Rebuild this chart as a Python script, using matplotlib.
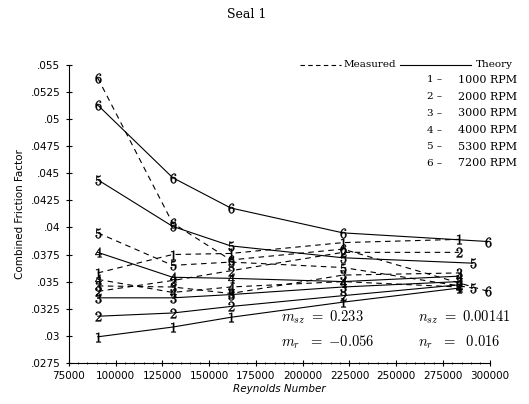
import numpy as np
import matplotlib
matplotlib.use("Agg")
import matplotlib.pyplot as plt
from matplotlib.lines import Line2D
from matplotlib.ticker import FuncFormatter, MultipleLocator

plt.rcParams['mathtext.fontset'] = 'cm'

# Reynolds numbers of the test points (last point shifts for 5300 / 7200 RPM)
re_low = [90500, 130500, 161500, 221500, 283500]
re_5 = [90500, 130500, 161500, 221500, 291000]
re_6 = [90500, 130500, 161500, 221500, 299000]

# theory (solid)
theory_1 = [.0299, .0308, .0317, .0331, .0344]
theory_2 = [.0318, .0321, .0327, .0337, .0347]
theory_3 = [.0335, .0335, .0338, .0345, .0350]
theory_4 = [.0377, .0354, .0353, .0350, .0355]
theory_5 = [.0444, .0401, .0383, .0372, .0367]
theory_6 = [.0513, .0446, .0418, .0395, .0387]

# measured (dashed)
meas_1 = [.0358, .0375, .0376, .0386, .0389]
meas_2 = [.0341, .0351, .0360, .0377, .0377]
meas_3 = [.0346, .0345, .0339, .0356, .0358]
meas_4 = [.0352, .0340, .0345, .0350, .0345]
meas_5 = [.0395, .0365, .0368, .0363, .0344]
meas_6 = [.0538, .0404, .0370, .0380, .0341]

rpm_labels = ['1000 RPM', '2000 RPM', '3000 RPM', '4000 RPM', '5300 RPM', '7200 RPM']

theory = [theory_1, theory_2, theory_3, theory_4, theory_5, theory_6]
measured = [meas_1, meas_2, meas_3, meas_4, meas_5, meas_6]
re_x = [re_low, re_low, re_low, re_low, re_5, re_6]

fig = plt.figure(figsize=(5.29, 4.04), dpi=100)
ax = fig.add_axes([0.130, 0.102, 0.796, 0.737])

for i in range(6):
    mk = '$%d$' % (i + 1)
    ax.plot(re_x[i], measured[i], color='k', lw=0.8, ls=(0, (5, 4)),
            marker=mk, ms=7, mew=0.3, clip_on=False)
    ax.plot(re_x[i], theory[i], color='k', lw=0.8, ls='-',
            marker=mk, ms=7, mew=0.3, clip_on=False)

ax.set_xlim(75000, 300000)
ax.set_ylim(.0275, .055)
ax.xaxis.set_major_locator(MultipleLocator(25000))
ax.xaxis.set_minor_locator(MultipleLocator(5000))
ax.yaxis.set_major_locator(MultipleLocator(.0025))
ax.yaxis.set_major_formatter(FuncFormatter(lambda v, p: ('%g' % round(v, 5)).lstrip('0')))
ax.xaxis.set_major_formatter(FuncFormatter(lambda v, p: '%d' % v))
for s in ['top', 'right']:
    ax.spines[s].set_visible(False)
ax.tick_params(direction='inout', length=5, width=0.8, labelsize=7.5)
ax.tick_params(axis='x', which='minor', direction='inout', length=2, width=0.6)

ax.set_xlabel('Reynolds Number', fontsize=7.5, style='italic', labelpad=2)
ax.set_ylabel('Combined Friction Factor', fontsize=7.5, labelpad=4)

fig.text(0.467, 0.965, 'Seal 1', ha='center', va='center', family='DejaVu Serif', fontsize=9)

# legend block
fig.add_artist(Line2D([0.568, 0.645], [0.84, 0.84], color='k', lw=0.8, ls=(0, (4, 3))))
fig.text(0.650, 0.84, 'Measured', va='center', family='DejaVu Serif', fontsize=7.5)
fig.add_artist(Line2D([0.757, 0.89], [0.84, 0.84], color='k', lw=0.8))
fig.text(0.900, 0.84, 'Theory', va='center', family='DejaVu Serif', fontsize=7.5)
for i, lab in enumerate(rpm_labels):
    yy = 0.802 - i * 0.0413
    fig.text(0.808, yy, '%d \u2013' % (i + 1), va='center', family='DejaVu Serif', fontsize=7.5)
    fig.text(0.866, yy, lab, va='center', family='DejaVu Serif', fontsize=8)

ax.text(0.505, 0.138, r'$m_{sz}\ =\ 0.233$', transform=ax.transAxes, fontsize=10.5)
ax.text(0.505, 0.053, r'$m_r\ \ =\ \mathrm{-}0.056$', transform=ax.transAxes, fontsize=10.5)
ax.text(0.83, 0.138, r'$n_{sz}\ =\ 0.00141$', transform=ax.transAxes, fontsize=10.5)
ax.text(0.83, 0.053, r'$n_r\ \ =\ \ 0.016$', transform=ax.transAxes, fontsize=10.5)

fig.savefig('out.png', dpi=100)
